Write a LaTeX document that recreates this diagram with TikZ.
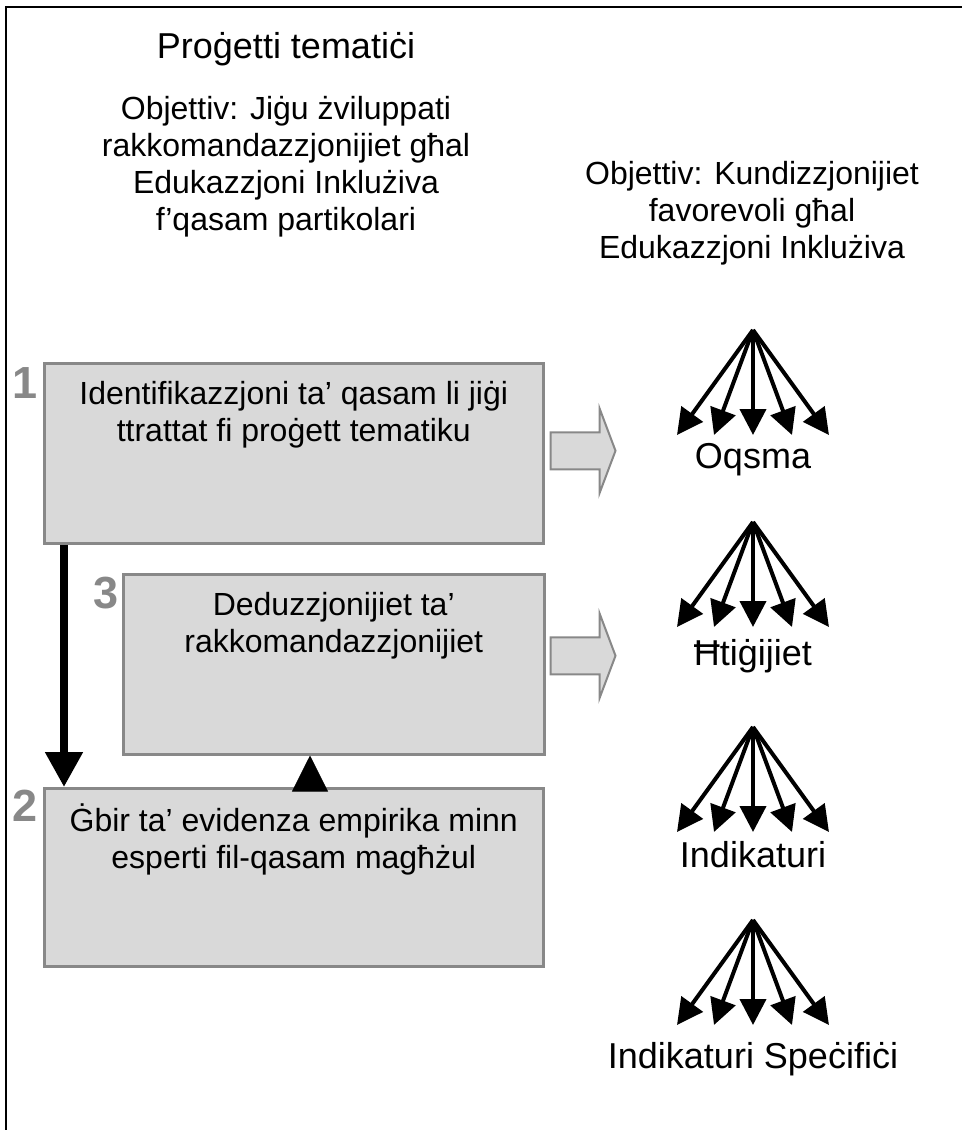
\documentclass[tikz,border=0pt]{standalone}
\usepackage{fontspec}
\setmainfont{Liberation Sans}
\usetikzlibrary{arrows.meta}

\definecolor{boxgray}{RGB}{217,217,217}
\definecolor{edgegray}{RGB}{136,136,136}

\tikzset{
  garrow/.pic={
    \draw[draw=edgegray, fill=boxgray, line width=2pt]
      (0,-18.5) -- (49,-18.5) -- (49,-42.5) -- (65,0) -- (49,42.5) -- (49,18.5) -- (0,18.5) -- cycle;
  }
}

\begin{document}
\begin{tikzpicture}[x=1pt, y=-1pt,
  every node/.style={font=\fontsize{32}{37}\selectfont, inner sep=0pt},
  stepbox/.style={draw=edgegray, line width=2.5pt, fill=boxgray, anchor=north west},
  steptext/.style={anchor=north, align=center},
  stepnum/.style={anchor=base east, text=edgegray, font=\fontsize{45}{45}\selectfont\bfseries},
  fanarrow/.style={line width=4pt, -{Triangle[length=26pt,width=26pt]}},
  fanlabel/.style={anchor=base, font=\fontsize{36}{40}\selectfont},
  mainarrow/.style={line width=8pt, -{Triangle[length=35pt,width=36pt]}},
  uparrow/.style={line width=0.8pt, -{Triangle[length=36pt,width=36pt]}}
]
\useasboundingbox (0,0) rectangle (962,1130);
% frame (only top and left show)
\draw[line width=2.5pt] (6,1130) -- (6,7) -- (962,7);

% headings
\node[steptext, font=\fontsize{36}{40}\selectfont] (title) at (286,32) {Proġetti tematiċi};
\node[steptext] (objleft) at (286,96) {Objettiv: Jiġu żviluppati\\rakkomandazzjonijiet għal\\Edukazzjoni Inklużiva\\f’qasam partikolari};
\node[steptext] (objright) at (752,161) {Objettiv: Kundizzjonijiet\\favorevoli għal\\Edukazzjoni Inklużiva};

% the three steps
\node[stepbox, minimum width=499pt, minimum height=180pt] (b1) at (43,362) {};
\node[stepbox, minimum width=421pt, minimum height=180pt] (b3) at (122,573) {};
\node[stepbox, minimum width=499pt, minimum height=178pt] (b2) at (43,787) {};

\node[steptext] (t1) at ([yshift=-19pt]b1.north) {Identifikazzjoni ta’ qasam li jiġi\\ttrattat fi proġett tematiku};
\node[steptext] (t3) at ([yshift=-19pt]b3.north) {Deduzzjonijiet ta’\\rakkomandazzjonijiet};
\node[steptext] (t2) at ([yshift=-17pt]b2.north) {Ġbir ta’ evidenza empirika minn\\esperti fil-qasam magħżul};

\node[stepnum] (n1) at ([shift={(-5pt,-36pt)}]b1.north west) {1};
\node[stepnum] (n3) at ([shift={(-3pt,-35pt)}]b3.north west) {3};
\node[stepnum] (n2) at ([shift={(-5pt,-34pt)}]b2.north west) {2};

\draw[mainarrow] ([xshift=21pt]b1.south west) -- ([xshift=21pt]b2.north west);
\draw[uparrow] ([xshift=267pt]b2.north west) -- ([xshift=188pt]b3.south west);

\pic at ([shift={(6pt,2.5pt)}]b1.east) {garrow};
\pic at ([shift={(5pt,8.5pt)}]b3.east) {garrow};

% fans of arrows
\foreach \i/\ya/\yl/\txt in {1/330/468/Oqsma, 2/522/665/Ħtiġijiet,
    3/727/867/Indikaturi, 4/920/1068/Indikaturi Speċifiċi} {
  \coordinate (apex\i) at (753,\ya);
  \node[fanlabel] (lbl\i) at (753,\yl) {\txt};
  \foreach \dx [count=\j] in {-76,-39,0,39,76} {
    \path (apex\i) ++(\dx,105) coordinate (tip\i\j);
    \draw[fanarrow] (apex\i) -- (tip\i\j);
  }
}
\end{tikzpicture}
\end{document}
